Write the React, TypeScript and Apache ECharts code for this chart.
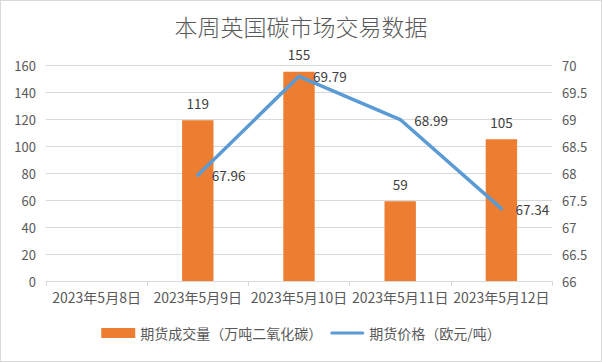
import React, { useEffect, useRef } from "react";
import * as echarts from "echarts";

const categories = ["2023年5月8日", "2023年5月9日", "2023年5月10日", "2023年5月11日", "2023年5月12日"];
const volume: (number | null)[] = [null, 119, 155, 59, 105];
const price: (number | null)[] = [null, 67.96, 69.79, 68.99, 67.34];
const volumeName = "期货成交量（万吨二氧化碳）";
const priceName = "期货价格（欧元/吨）";
const titleText = "本周英国碳市场交易数据";

const FONT = "'Noto Sans CJK SC', 'Microsoft YaHei', sans-serif";

export default function App() {
  const ref = useRef<HTMLDivElement>(null);
  useEffect(() => {
    document.body.style.margin = "0";
    const chart = echarts.init(ref.current!, null, { renderer: "svg" });
    chart.setOption({
      animation: false,
      textStyle: { fontFamily: FONT },
      title: {
        text: titleText,
        left: "center",
        top: 8,
        textStyle: { fontSize: 23, fontWeight: 300, color: "#595959", fontFamily: FONT },
      },
      legend: {
        bottom: 16,
        left: "center",
        itemGap: 8,
        itemWidth: 34,
        itemHeight: 10,
        textStyle: { fontSize: 14, color: "#595959", fontFamily: FONT },
        data: [
          { name: volumeName, icon: "rect" },
          { name: priceName, icon: "path://M2,3.5 L32,3.5 A1.5,1.5 0 0 1 32,6.5 L2,6.5 A1.5,1.5 0 0 1 2,3.5 Z" },
        ],
      },
      grid: { left: 45, right: 49, top: 64, bottom: 80, containLabel: false },
      xAxis: {
        type: "category",
        data: categories,
        axisLine: { lineStyle: { color: "#d9d9d9" } },
        axisTick: { show: true, lineStyle: { color: "#d9d9d9" }, length: 5 },
        axisLabel: { color: "#595959", fontSize: 14, margin: 9, interval: 0 },
      },
      yAxis: [
        {
          type: "value",
          min: 0,
          max: 160,
          interval: 20,
          axisLine: { show: false },
          axisTick: { show: false },
          splitLine: { lineStyle: { color: "#d9d9d9" } },
          axisLabel: { color: "#595959", fontSize: 13, margin: 10 },
        },
        {
          type: "value",
          min: 66,
          max: 70,
          interval: 0.5,
          axisLine: { show: false },
          axisTick: { show: false },
          splitLine: { show: false },
          axisLabel: { color: "#595959", fontSize: 13, margin: 10 },
        },
      ],
      series: [
        {
          name: volumeName,
          type: "bar",
          data: volume,
          barWidth: "31%",
          itemStyle: { color: "#ED7D31" },
          label: { show: true, position: "top", color: "#404040", fontSize: 13.5, distance: 11 },
        },
        {
          name: priceName,
          type: "line",
          yAxisIndex: 1,
          data: price,
          symbol: "circle",
          symbolSize: 0.1,
          lineStyle: { color: "#5B9BD5", width: 3.5, join: "round", cap: "round" },
          itemStyle: { color: "#5B9BD5" },
          label: { show: true, position: "right", color: "#404040", fontSize: 13.5, distance: 14 },
        },
      ],
    });
    return () => chart.dispose();
  }, []);
  return (
    <div
      ref={ref}
      style={{
        position: "absolute",
        left: 0,
        top: 0,
        width: 602,
        height: 362,
        border: "1px solid #d9d9d9",
        boxSizing: "border-box",
        background: "#fff",
      }}
    />
  );
}
